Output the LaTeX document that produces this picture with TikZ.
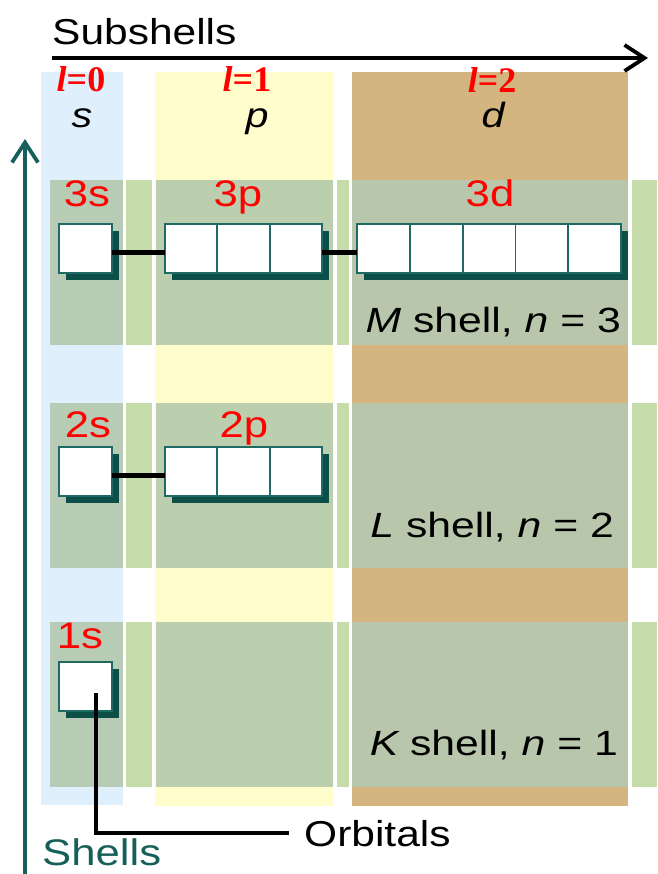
\documentclass[tikz,border=0pt]{standalone}
\usepackage{fontspec}
\setmainfont{Liberation Sans}
\newfontfamily\wsans[FakeStretch=1.18]{Liberation Sans}
\newfontfamily\wwsans[FakeStretch=1.22]{Liberation Sans}
\newfontfamily\lser{Liberation Serif}
\usetikzlibrary{arrows.meta,calc}
\definecolor{colS}{HTML}{DFF0FC}
\definecolor{colP}{HTML}{FFFDCC}
\definecolor{colD}{HTML}{D4B47F}
\definecolor{bandS}{HTML}{B7CBB5}
\definecolor{bandW}{HTML}{C6DCAB}
\definecolor{bandP}{HTML}{BBCEAE}
\definecolor{bandD}{HTML}{B8C7AB}
\definecolor{tealdark}{HTML}{0C4F49}
\definecolor{boxedge}{HTML}{1F6A62}
\definecolor{shellteal}{HTML}{17605A}
\pgfdeclarelayer{bg}
\pgfdeclarelayer{shadow}
\pgfsetlayers{bg,shadow,main}
\begin{document}
\begin{tikzpicture}[x=1pt,y=-1pt,
  orbS/.style={draw=boxedge, line width=1.8pt, fill=white, minimum width=53pt, minimum height=49pt, inner sep=0pt, outer sep=0pt},
  orbP/.style={orbS, minimum width=52.3pt},
  orbD/.style={orbS, minimum width=52.8pt},
  sublabel/.style={font=\wsans\fontsize{37}{40}\selectfont, text=red, inner sep=0pt, anchor=base},
  lbl/.style={font=\lser\bfseries\fontsize{36}{39}\selectfont, text=red, inner sep=0pt, anchor=base},
  letter/.style={font=\wsans\itshape\fontsize{35}{38}\selectfont, inner sep=0pt, anchor=base},
  shelllbl/.style={font=\wwsans\fontsize{35}{38}\selectfont, inner sep=0pt, anchor=base east},
  link/.style={line width=4.2pt, black},
  bigarrow/.style={line width=3.8pt, -{Straight Barb[length=20pt, width=26pt, line width=3.8pt]}}
]
\useasboundingbox (0,0) rectangle (657,874);

% columns and shell bands
\begin{pgfonlayer}{bg}
  \fill[white] (0,0) rectangle (657,874);
  \fill[colS] (41,72) rectangle (123,805);
  \fill[colP] (155,72) rectangle (333,806);
  \fill[colD] (352,72) rectangle (628,806);
  \foreach \yt/\yb in {180/345, 403/568, 622/787}{
    \fill[bandS] (50,\yt) rectangle (123,\yb);
    \fill[bandW] (126,\yt) rectangle (152,\yb);
    \fill[bandP] (156,\yt) rectangle (333,\yb);
    \fill[bandW] (337,\yt) rectangle (349,\yb);
    \fill[bandD] (352,\yt) rectangle (628,\yb);
    \fill[bandW] (632,\yt) rectangle (657,\yb);
  }
\end{pgfonlayer}

% titles and axes
\node[font=\wsans\fontsize{36}{39}\selectfont, inner sep=0pt, anchor=base west] (subt) at (52,45) {Subshells};
\coordinate (subL) at (52,58);
\coordinate (subR) at (648,58);
\draw[bigarrow, black] (subL) -- (subR);

\coordinate (shB) at (25,874);
\coordinate (shT) at (25,139);
\draw[bigarrow, shellteal] (shB) -- (shT);
\node[font=\wsans\fontsize{37}{40}\selectfont, text=shellteal, inner sep=0pt, anchor=base west] (shellt) at (42,865) {Shells};

% l labels and letters
\node[lbl] (l0) at (81,92) {\itshape l\upshape =0};
\node[lbl] (l1) at (247,92) {\itshape l\upshape =1};
\node[lbl] (l2) at (492,93) {\itshape l\upshape =2};
\node[letter] (ls) at (82,128) {s};
\node[letter] (lp) at (257,128) {p};
\node[letter] (ld) at (493,128) {d};

% subshell labels
\node[sublabel] (t3s) at (87,207) {3s};
\node[sublabel] (t3p) at (238,207) {3p};
\node[sublabel] (t3d) at (490,207) {3d};
\node[sublabel] (t2s) at (88,437) {2s};
\node[sublabel] (t2p) at (244,437) {2p};
\node[sublabel] (t1s) at (80,648) {1s};

% shell labels
\node[shelllbl] (mshell) at (621,332) {\itshape M\upshape\ shell, \itshape n\upshape\ = 3};
\node[shelllbl] (lshell) at (614,537) {\itshape L\upshape\ shell, \itshape n\upshape\ = 2};
\node[shelllbl] (kshell) at (618,755) {\itshape K\upshape\ shell, \itshape n\upshape\ = 1};

% orbitals, n = 3
\node[orbS, anchor=north west] (s3) at (59,224) {};
\node[orbP, anchor=north west] (p3a) at (165,224) {};
\node[orbP, anchor=west] (p3b) at (p3a.east) {};
\node[orbP, anchor=west] (p3c) at (p3b.east) {};
\node[orbD, anchor=north west] (d3a) at (357,224) {};
\node[orbD, anchor=west] (d3b) at (d3a.east) {};
\node[orbD, anchor=west] (d3c) at (d3b.east) {};
\node[orbD, anchor=west] (d3d) at (d3c.east) {};
\node[orbD, anchor=west] (d3e) at (d3d.east) {};
% orbitals, n = 2
\node[orbS, anchor=north west] (s2) at (59,447) {};
\node[orbP, anchor=north west] (p2a) at (165,447) {};
\node[orbP, anchor=west] (p2b) at (p2a.east) {};
\node[orbP, anchor=west] (p2c) at (p2b.east) {};
% orbital, n = 1
\node[orbS, anchor=north west] (s1) at (59,662) {};

% drop shadows
\begin{pgfonlayer}{shadow}
  \foreach \a/\b in {s3/s3, p3a/p3c, d3a/d3e, s2/s2, p2a/p2c, s1/s1}{
    \fill[tealdark] ($(\a.north west)+(7,7)$) rectangle ($(\b.south east)+(7,7)$);
  }
\end{pgfonlayer}

% connectors between subshells
\draw[link] ([yshift=-4pt]s3.east) -- ([yshift=-4pt]p3a.west);
\draw[link] ([yshift=-4pt]p3c.east) -- ([yshift=-4pt]d3a.west);
\draw[link] ([yshift=-4pt]s2.east) -- ([yshift=-4pt]p2a.west);

% orbitals pointer
\node[font=\wsans\fontsize{36}{39}\selectfont, inner sep=0pt, anchor=base west] (orbt) at (304,846) {Orbitals};
\coordinate (ptr) at (96,693);
\draw[link] (ptr) |- ([xshift=-15pt]orbt.west);
\end{tikzpicture}
\end{document}
